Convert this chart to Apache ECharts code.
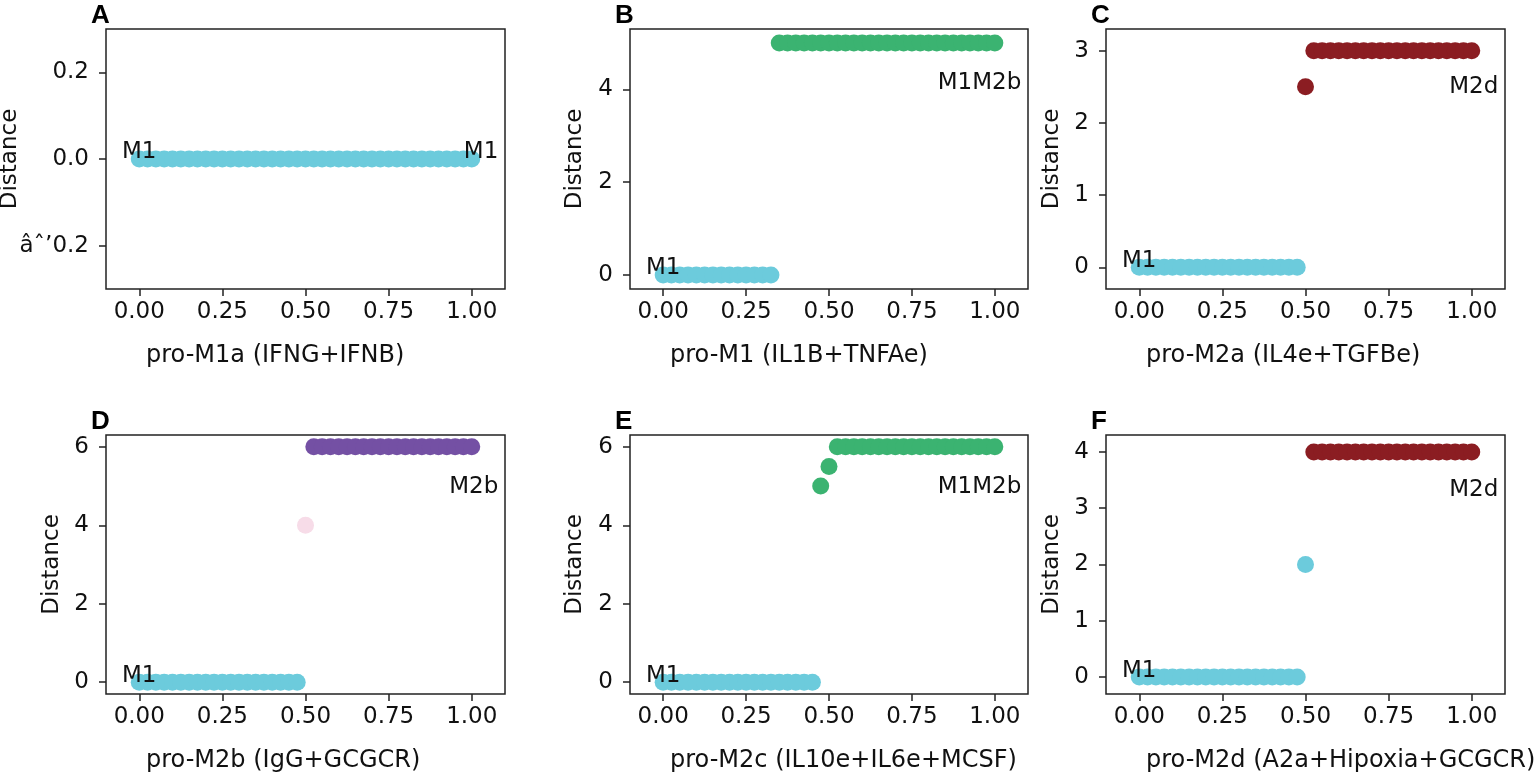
<!DOCTYPE html>
<html><head><meta charset="utf-8">
<script src="https://cdn.jsdelivr.net/npm/echarts@6/dist/echarts.min.js"></script>
<style>html,body{margin:0;padding:0;background:#fff}#chart{width:1535px;height:776px}</style>
</head><body><div id="chart"></div>
<script>
// ---------- DATA ----------
const xGrid = [0, 0.025, 0.05, 0.075, 0.1, 0.125, 0.15, 0.175, 0.2, 0.225, 0.25, 0.275, 0.3, 0.325, 0.35, 0.375, 0.4, 0.425, 0.45, 0.475, 0.5, 0.525, 0.55, 0.575, 0.6, 0.625, 0.65, 0.675, 0.7, 0.725, 0.75, 0.775, 0.8, 0.825, 0.85, 0.875, 0.9, 0.925, 0.95, 0.975, 1];

const distA = [0,0,0,0,0,0,0,0,0,0, 0,0,0,0,0,0,0,0,0,0, 0,0,0,0,0,0,0,0,0,0, 0,0,0,0,0,0,0,0,0,0, 0];
const stateA = ['M1','M1','M1','M1','M1','M1','M1','M1','M1','M1', 'M1','M1','M1','M1','M1','M1','M1','M1','M1','M1', 'M1','M1','M1','M1','M1','M1','M1','M1','M1','M1', 'M1','M1','M1','M1','M1','M1','M1','M1','M1','M1', 'M1'];

const distB = [0,0,0,0,0,0,0,0,0,0, 0,0,0,0,5,5,5,5,5,5, 5,5,5,5,5,5,5,5,5,5, 5,5,5,5,5,5,5,5,5,5, 5];
const stateB = ['M1','M1','M1','M1','M1','M1','M1','M1','M1','M1', 'M1','M1','M1','M1','M1M2b','M1M2b','M1M2b','M1M2b','M1M2b','M1M2b', 'M1M2b','M1M2b','M1M2b','M1M2b','M1M2b','M1M2b','M1M2b','M1M2b','M1M2b','M1M2b', 'M1M2b','M1M2b','M1M2b','M1M2b','M1M2b','M1M2b','M1M2b','M1M2b','M1M2b','M1M2b', 'M1M2b'];

const distC = [0,0,0,0,0,0,0,0,0,0, 0,0,0,0,0,0,0,0,0,0, 2.5,3,3,3,3,3,3,3,3,3, 3,3,3,3,3,3,3,3,3,3, 3];
const stateC = ['M1','M1','M1','M1','M1','M1','M1','M1','M1','M1', 'M1','M1','M1','M1','M1','M1','M1','M1','M1','M1', 'M2d','M2d','M2d','M2d','M2d','M2d','M2d','M2d','M2d','M2d', 'M2d','M2d','M2d','M2d','M2d','M2d','M2d','M2d','M2d','M2d', 'M2d'];

const distD = [0,0,0,0,0,0,0,0,0,0, 0,0,0,0,0,0,0,0,0,0, 4,6,6,6,6,6,6,6,6,6, 6,6,6,6,6,6,6,6,6,6, 6];
const stateD = ['M1','M1','M1','M1','M1','M1','M1','M1','M1','M1', 'M1','M1','M1','M1','M1','M1','M1','M1','M1','M1', 'M2a','M2b','M2b','M2b','M2b','M2b','M2b','M2b','M2b','M2b', 'M2b','M2b','M2b','M2b','M2b','M2b','M2b','M2b','M2b','M2b', 'M2b'];

const distE = [0,0,0,0,0,0,0,0,0,0, 0,0,0,0,0,0,0,0,0,5, 5.5,6,6,6,6,6,6,6,6,6, 6,6,6,6,6,6,6,6,6,6, 6];
const stateE = ['M1','M1','M1','M1','M1','M1','M1','M1','M1','M1', 'M1','M1','M1','M1','M1','M1','M1','M1','M1','M1M2b', 'M1M2b','M1M2b','M1M2b','M1M2b','M1M2b','M1M2b','M1M2b','M1M2b','M1M2b','M1M2b', 'M1M2b','M1M2b','M1M2b','M1M2b','M1M2b','M1M2b','M1M2b','M1M2b','M1M2b','M1M2b', 'M1M2b'];

const distF = [0,0,0,0,0,0,0,0,0,0, 0,0,0,0,0,0,0,0,0,0, 2,4,4,4,4,4,4,4,4,4, 4,4,4,4,4,4,4,4,4,4, 4];
const stateF = ['M1','M1','M1','M1','M1','M1','M1','M1','M1','M1', 'M1','M1','M1','M1','M1','M1','M1','M1','M1','M1', 'M1','M2d','M2d','M2d','M2d','M2d','M2d','M2d','M2d','M2d', 'M2d','M2d','M2d','M2d','M2d','M2d','M2d','M2d','M2d','M2d', 'M2d'];

const panelLetters = ['A', 'B', 'C', 'D', 'E', 'F'];
const xNames = ['pro-M1a (IFNG+IFNB)', 'pro-M1 (IL1B+TNFAe)', 'pro-M2a (IL4e+TGFBe)', 'pro-M2b (IgG+GCGCR)', 'pro-M2c (IL10e+IL6e+MCSF)', 'pro-M2d (A2a+Hipoxia+GCGCR)'];
const yName = 'Distance';

const xTicks = [0, 0.25, 0.5, 0.75, 1];
const xTickLabels = ['0.00', '0.25', '0.50', '0.75', '1.00'];
const yTicksA = [-0.2, 0, 0.2];
const yTickLabelsA = ['\u00e2\u02c6\u20190.2', '0.0', '0.2'];
const yTicksB = [0, 2, 4];
const yTickLabelsB = ['0', '2', '4'];
const yTicksC = [0, 1, 2, 3];
const yTickLabelsC = ['0', '1', '2', '3'];
const yTicksD = [0, 2, 4, 6];
const yTickLabelsD = ['0', '2', '4', '6'];
const yTicksE = [0, 2, 4, 6];
const yTickLabelsE = ['0', '2', '4', '6'];
const yTicksF = [0, 1, 2, 3, 4];
const yTickLabelsF = ['0', '1', '2', '3', '4'];

// ---------- STYLE / LAYOUT ----------
const stateColors = { M1: '#6ccbdc', M1M2b: '#3bb371', M2d: '#8b1d22', M2b: '#7450a4', M2a: '#f7dce8' };
const FONT = 'DejaVu Sans';
const TXT = '#111111';
const AX = '#222222';
const layouts = [
  { left: 106, top: 29, width: 399, height: 260, yGap: 96, yMin: -0.3, yMax: 0.3 },
  { left: 630, top: 29, width: 398, height: 260, yGap: 55, yMin: -0.3, yMax: 5.3 },
  { left: 1106, top: 29, width: 399, height: 260, yGap: 54, yMin: -0.3, yMax: 3.3 },
  { left: 106, top: 435, width: 399, height: 259, yGap: 54, yMin: -0.3, yMax: 6.3 },
  { left: 630, top: 435, width: 398, height: 259, yGap: 55, yMin: -0.3, yMax: 6.3 },
  { left: 1106, top: 435, width: 399, height: 259, yGap: 54, yMin: -0.3, yMax: 4.3 }
];
const panels = [
  { dist: distA, state: stateA, yTicks: yTicksA, yLabels: yTickLabelsA },
  { dist: distB, state: stateB, yTicks: yTicksB, yLabels: yTickLabelsB },
  { dist: distC, state: stateC, yTicks: yTicksC, yLabels: yTickLabelsC },
  { dist: distD, state: stateD, yTicks: yTicksD, yLabels: yTickLabelsD },
  { dist: distE, state: stateE, yTicks: yTicksE, yLabels: yTickLabelsE },
  { dist: distF, state: stateF, yTicks: yTicksF, yLabels: yTickLabelsF }
];

function lookup(ticks, labels) {
  return function (v) {
    for (let i = 0; i < ticks.length; i++) if (Math.abs(ticks[i] - v) < 1e-9) return labels[i];
    return '';
  };
}

const annoLabel = { show: true, color: TXT, fontFamily: FONT, fontSize: 23, textBorderWidth: 0, textShadowBlur: 0, opacity: 1 };

const grid = [], xAxis = [], yAxis = [], series = [], graphic = [];
panels.forEach((p, k) => {
  const L = layouts[k];
  grid.push({ left: L.left, top: L.top, width: L.width, height: L.height, show: true,
    borderColor: AX, borderWidth: 1.5, backgroundColor: 'transparent', containLabel: false, outerBoundsMode: 'none' });
  xAxis.push({ type: 'value', gridIndex: k, min: -0.1, max: 1.1, position: 'bottom',
    axisLine: { show: false, onZero: false }, splitLine: { show: false },
    axisTick: { show: true, length: 7, lineStyle: { color: AX, width: 1.5 }, customValues: xTicks },
    axisLabel: { show: true, customValues: xTicks, formatter: lookup(xTicks, xTickLabels), color: TXT, fontFamily: FONT, fontSize: 23, margin: 12 } });
  yAxis.push({ type: 'value', gridIndex: k, min: L.yMin, max: L.yMax, position: 'left',
    axisLine: { show: false, onZero: false }, splitLine: { show: false },
    axisTick: { show: true, length: 7, lineStyle: { color: AX, width: 1.5 }, customValues: p.yTicks },
    axisLabel: { show: true, customValues: p.yTicks, formatter: lookup(p.yTicks, p.yLabels), color: TXT, fontFamily: FONT, fontSize: 23, margin: 17 } });

  // points: consecutive runs of the same state form one series
  let run = null;
  for (let i = 0; i < xGrid.length; i++) {
    if (!run || run.state !== p.state[i]) {
      run = { state: p.state[i], data: [] };
      series.push({ type: 'scatter', xAxisIndex: k, yAxisIndex: k, symbol: 'circle', symbolSize: 17,
        itemStyle: { color: stateColors[run.state], opacity: 1 },
        emphasis: { disabled: true }, silent: true, z: 2, data: run.data });
    }
    run.data.push([xGrid[i], p.dist[i]]);
  }

  // state annotations: first state at first point, last state at right
  const maxD = Math.max.apply(null, p.dist);
  const last = p.state[p.state.length - 1];
  series.push({ type: 'scatter', xAxisIndex: k, yAxisIndex: k, symbolSize: 0.1, silent: true, z: 5,
    itemStyle: { color: '#000' },
    label: Object.assign({ position: [0, 5], align: 'center', verticalAlign: 'bottom', formatter: p.state[0] }, annoLabel),
    data: [[xGrid[0], p.dist[0]]] });
  series.push({ type: 'scatter', xAxisIndex: k, yAxisIndex: k, symbolSize: 0.1, silent: true, z: 5,
    itemStyle: { color: '#000' },
    label: Object.assign({ position: [0, 5], align: 'right', verticalAlign: 'bottom', formatter: last }, annoLabel),
    data: [[1.08, 0.8 * maxD]] });

  // axis titles
  graphic.push({ type: 'text', left: L.left + 40, top: L.top + L.height + 55, z: 10, silent: true,
    style: { text: xNames[k], font: '24px "DejaVu Sans"', fill: TXT } });
  graphic.push({ type: 'text', x: L.left - L.yGap, y: L.top + L.height / 2, rotation: Math.PI / 2, z: 10, silent: true,
    style: { text: yName, font: '23px "DejaVu Sans"', fill: TXT, textAlign: 'center', textVerticalAlign: 'middle' } });
  graphic.push({ type: 'text', left: L.left - 15, top: L.top - 26, z: 10, silent: true,
    style: { text: panelLetters[k], font: 'bold 26px "Liberation Sans"', fill: '#000' } });
});

const chart = echarts.init(document.getElementById('chart'), null, { renderer: 'canvas' });
chart.setOption({ animation: false, backgroundColor: '#ffffff', grid, xAxis, yAxis, series, graphic, tooltip: { show: false } });
</script>
</body></html>
